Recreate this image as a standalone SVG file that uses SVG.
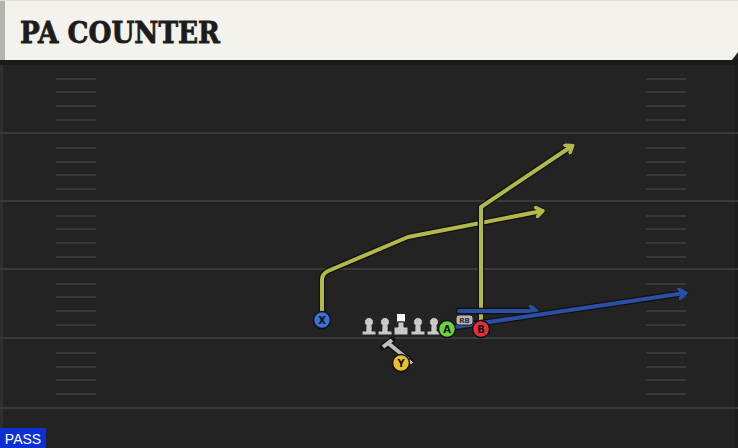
<svg xmlns="http://www.w3.org/2000/svg" width="738" height="448" viewBox="0 0 738 448">
<style>
.yard{stroke:#3a3a3a;stroke-width:2}
.hash{stroke:#383838;stroke-width:2}
.route{fill:none;stroke-linejoin:round;stroke-linecap:round}
.ol{stroke:#111;stroke-width:6.5}
.yel{stroke:#b3b84a;stroke-width:4}
.blu{stroke:#2c4fa6;stroke-width:4}
.lbl{font-family:"DejaVu Sans Condensed","DejaVu Sans",sans-serif;font-weight:bold;font-size:11px;fill:#111;text-anchor:middle}
.lin{fill:#c9c9c9;stroke:#222;stroke-width:1}
</style>
<defs>
<marker id="ay" markerWidth="12" markerHeight="12" refX="7" refY="6" orient="auto" markerUnits="userSpaceOnUse">
<path d="M1.5,1.5 L8,6 L1.5,10.5" fill="none" stroke="#b3b84a" stroke-width="3.5" stroke-linejoin="round" stroke-linecap="round"/>
</marker>
<marker id="ab" markerWidth="12" markerHeight="12" refX="7" refY="6" orient="auto" markerUnits="userSpaceOnUse">
<path d="M1.5,1.5 L8,6 L1.5,10.5" fill="none" stroke="#2c4fa6" stroke-width="3.5" stroke-linejoin="round" stroke-linecap="round"/>
</marker>
<g id="lineman"><path d="M-3,-10 V-3 H-3 V0 H-7 V4 H7 V0 H3 V-10 Z" class="lin"/><circle cx="0" cy="-9" r="4.5" class="lin"/><rect x="-2.3" y="-9" width="4.6" height="8" fill="#c9c9c9"/></g>
</defs>
<rect width="738" height="448" fill="#232323"/>
<rect x="0" y="65" width="3" height="383" fill="#2e2e2e"/>
<rect x="735" y="65" width="3" height="383" fill="#1c1c1c"/>
<g id="header">
<rect x="0" y="59" width="738" height="6" fill="#1a1a1a"/>
<path d="M0,0 H738 V52 L732,60 H0 Z" fill="#f4f2ec"/>
<rect x="0" y="0" width="5" height="60" fill="#b4b4b0"/>
<rect x="0" y="0" width="738" height="1" fill="#ddd"/>
<text x="20" y="43" font-family="DejaVu Serif, serif" font-weight="bold" font-size="30" fill="#1c1c1c" stroke="#1c1c1c" stroke-width="0.8" textLength="200" lengthAdjust="spacingAndGlyphs">PA COUNTER</text>
</g>
<g id="field">
<line class="yard" x1="0" y1="133" x2="738" y2="133"/>
<line class="yard" x1="0" y1="201" x2="738" y2="201"/>
<line class="yard" x1="0" y1="269" x2="738" y2="269"/>
<line class="yard" x1="0" y1="338" x2="738" y2="338"/>
<line class="yard" x1="0" y1="408" x2="738" y2="408"/>
<g class="hash">
<line x1="56" y1="79" x2="96" y2="79"/><line x1="56" y1="92" x2="96" y2="92"/><line x1="56" y1="106" x2="96" y2="106"/><line x1="56" y1="120" x2="96" y2="120"/>
<line x1="56" y1="148" x2="96" y2="148"/><line x1="56" y1="162" x2="96" y2="162"/><line x1="56" y1="175" x2="96" y2="175"/><line x1="56" y1="189" x2="96" y2="189"/>
<line x1="56" y1="216" x2="96" y2="216"/><line x1="56" y1="229" x2="96" y2="229"/><line x1="56" y1="243" x2="96" y2="243"/><line x1="56" y1="257" x2="96" y2="257"/>
<line x1="56" y1="284" x2="96" y2="284"/><line x1="56" y1="297" x2="96" y2="297"/><line x1="56" y1="311" x2="96" y2="311"/><line x1="56" y1="325" x2="96" y2="325"/>
<line x1="56" y1="353" x2="96" y2="353"/><line x1="56" y1="367" x2="96" y2="367"/><line x1="56" y1="380" x2="96" y2="380"/><line x1="56" y1="394" x2="96" y2="394"/>
<line x1="646" y1="79" x2="686" y2="79"/><line x1="646" y1="92" x2="686" y2="92"/><line x1="646" y1="106" x2="686" y2="106"/><line x1="646" y1="120" x2="686" y2="120"/>
<line x1="646" y1="148" x2="686" y2="148"/><line x1="646" y1="162" x2="686" y2="162"/><line x1="646" y1="175" x2="686" y2="175"/><line x1="646" y1="189" x2="686" y2="189"/>
<line x1="646" y1="216" x2="686" y2="216"/><line x1="646" y1="229" x2="686" y2="229"/><line x1="646" y1="243" x2="686" y2="243"/><line x1="646" y1="257" x2="686" y2="257"/>
<line x1="646" y1="284" x2="686" y2="284"/><line x1="646" y1="297" x2="686" y2="297"/><line x1="646" y1="311" x2="686" y2="311"/><line x1="646" y1="325" x2="686" y2="325"/>
<line x1="646" y1="353" x2="686" y2="353"/><line x1="646" y1="367" x2="686" y2="367"/><line x1="646" y1="380" x2="686" y2="380"/><line x1="646" y1="394" x2="686" y2="394"/>
</g>
</g>
<g id="connectors">
<path class="route ol" d="M322,312 V280 Q322,274 328,271 L408,237 L542,211"/>
<path class="route yel" d="M322,312 V280 Q322,274 328,271 L408,237 L542,211" marker-end="url(#ay)"/>
<path class="route ol" d="M481,321 V207 L572,146"/>
<path class="route yel" d="M481,321 V207 L572,146" marker-end="url(#ay)"/>
<path class="route ol" d="M459,311 L536,311"/>
<path class="route blu" d="M459,311 L536,311" marker-end="url(#ab)"/>
<path class="route ol" d="M455,327 L685,293"/>
<path class="route blu" d="M455,327 L685,293" marker-end="url(#ab)"/>
<path d="M383,347 L392,340 M388,343 L410,361" fill="none" stroke="#111" stroke-width="6.5" stroke-linecap="round"/>
<path d="M383,347 L392,340 M388,343 L410,361" fill="none" stroke="#bdbdbd" stroke-width="4" stroke-linecap="butt"/>
<path d="M409,358 L414,363 L408,366 Z" fill="#bdbdbd" stroke="#111" stroke-width="1"/>
</g>
<g id="LT"><use href="#lineman" x="369" y="331"/></g>
<g id="LG"><use href="#lineman" x="385" y="331"/></g>
<g id="C"><rect x="396.5" y="313.5" width="9" height="8.5" fill="#f6f6f6" stroke="#222"/><path d="M398,322 V327 H394 V335 H408 V327 H404 V322 Z" class="lin"/></g>
<g id="RG"><use href="#lineman" x="418" y="331"/></g>
<g id="RT"><use href="#lineman" x="434" y="331"/></g>
<g id="X"><circle cx="322" cy="320" r="8.5" fill="#3a72d6" stroke="#111" stroke-width="1.5"/><text class="lbl" x="322" y="324">X</text></g>
<g id="A"><circle cx="447" cy="329" r="8.5" fill="#6ad23a" stroke="#111" stroke-width="1.5"/><text class="lbl" x="447" y="333">A</text></g>
<g id="RB"><rect x="456" y="315" width="17" height="10" rx="3" fill="#b5b5b5" stroke="#222" stroke-width="1"/><text x="464.5" y="323" font-family="DejaVu Sans, sans-serif" font-size="7" font-weight="bold" fill="#333" text-anchor="middle">RB</text></g>
<g id="B"><circle cx="481" cy="329" r="8.5" fill="#e0303c" stroke="#111" stroke-width="1.5"/><text class="lbl" x="481" y="333">B</text></g>
<g id="Y"><circle cx="401" cy="363" r="8.5" fill="#e8c22a" stroke="#111" stroke-width="1.5"/><text class="lbl" x="401" y="367">Y</text></g>
<g id="pass"><rect x="0" y="428" width="46" height="20" fill="#0d2fd6"/><text x="23" y="444" font-family="Liberation Sans, Arial, sans-serif" font-size="14" fill="#fff" text-anchor="middle">PASS</text></g>
</svg>
